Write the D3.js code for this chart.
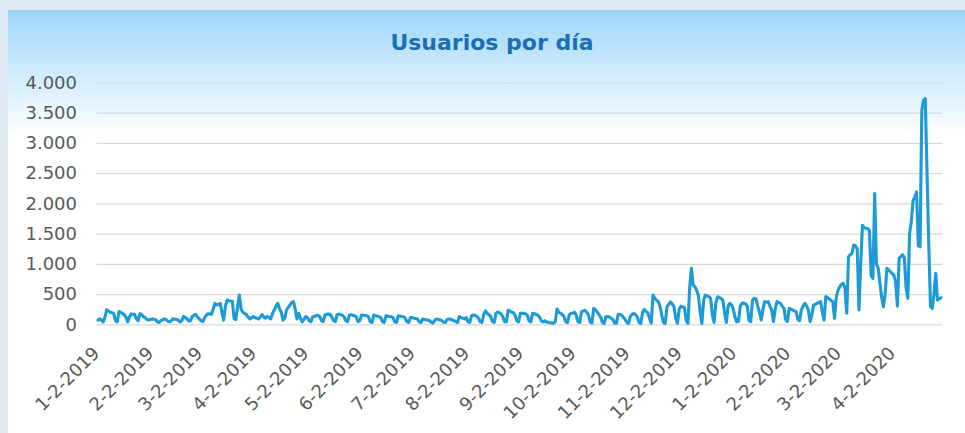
<!DOCTYPE html>
<html lang="es">
<head>
<meta charset="utf-8">
<title>Usuarios por día</title>
<script src="https://cdn.jsdelivr.net/npm/d3@7"></script>
<style>
  html, body { margin: 0; padding: 0; background: #dfeaf5; }
  svg { display: block; }
</style>
</head>
<body>
<svg id="chart" width="965" height="433"></svg>
<script>
var TITULO = 'Usuarios por día';

// usuarios diarios, un array por mes (enero 2019 empieza el día 2)
var ene2019 = [70, 90, 70, 40, 120, 240, 220, 200, 190, 180, 60, 40, 210, 200, 180, 160, 120, 40, 120, 170, 165, 160, 90, 60, 175, 160, 126, 110, 80, 70];
var feb2019 = [80, 90, 85, 80, 40, 30, 60, 75, 90, 80, 50, 40, 60, 90, 85, 80, 70, 40, 60, 130, 110, 90, 55, 60, 130, 150, 165, 120];
var mar2019 = [90, 60, 43, 100, 150, 175, 170, 165, 250, 346, 320, 330, 346, 200, 70, 300, 400, 390, 385, 380, 90, 80, 300, 484, 250, 200, 180, 160, 120, 90, 110];
var abr2019 = [126, 110, 100, 88, 120, 160, 120, 100, 130, 110, 90, 180, 236, 300, 346, 260, 200, 70, 100, 236, 280, 320, 360, 373, 250, 90, 180, 100, 40, 80];
var may2019 = [126, 110, 60, 43, 126, 130, 140, 150, 130, 60, 43, 150, 165, 170, 165, 120, 60, 43, 160, 170, 160, 150, 120, 60, 43, 150, 160, 150, 140, 120, 43];
var jun2019 = [60, 154, 150, 145, 140, 120, 43, 30, 154, 140, 135, 126, 110, 43, 30, 140, 135, 130, 126, 110, 43, 30, 140, 135, 130, 126, 100, 43, 30, 110];
var jul2019 = [110, 100, 95, 90, 43, 30, 88, 80, 75, 70, 60, 30, 20, 70, 88, 80, 75, 60, 33, 30, 80, 88, 85, 70, 60, 43, 30, 126, 110, 100, 90];
var ago2019 = [110, 40, 30, 140, 154, 150, 130, 100, 43, 30, 165, 220, 180, 160, 130, 43, 30, 180, 204, 190, 170, 120, 43, 40, 236, 220, 200, 190, 150, 55, 40];
var sep2019 = [182, 180, 182, 170, 150, 55, 40, 182, 175, 165, 150, 120, 55, 40, 60, 40, 33, 25, 20, 20, 40, 252, 200, 182, 160, 130, 40, 30, 154, 182];
var oct2019 = [182, 200, 150, 43, 30, 204, 220, 230, 200, 150, 40, 20, 264, 240, 200, 160, 120, 30, 16, 126, 130, 120, 100, 80, 20, 16, 160, 165, 150, 120, 80];
var nov2019 = [30, 16, 126, 165, 180, 160, 120, 30, 16, 190, 245, 210, 190, 100, 20, 483, 430, 400, 373, 300, 150, 30, 16, 290, 330, 370, 340, 290, 100, 16];
var dic2019 = [250, 300, 290, 280, 60, 16, 600, 924, 650, 620, 560, 480, 200, 16, 400, 483, 470, 456, 430, 150, 30, 350, 456, 440, 430, 401, 200, 30, 300, 346, 320];
var ene2020 = [250, 120, 40, 50, 300, 346, 350, 340, 300, 60, 44, 400, 429, 420, 300, 200, 72, 250, 374, 370, 374, 300, 237, 44, 250, 374, 360, 347, 300, 264, 80];
var feb2020 = [44, 264, 250, 237, 220, 209, 80, 60, 237, 300, 347, 300, 237, 44, 150, 319, 330, 347, 360, 374, 200, 72, 457, 440, 420, 390, 374, 99, 450];
var mar2020 = [560, 622, 660, 677, 600, 182, 1116, 1150, 1171, 1308, 1300, 1250, 237, 1000, 1638, 1600, 1584, 1584, 1550, 800, 759, 2160, 1000, 930, 677, 450, 291, 500, 924, 900, 869];
var abr2020 = [840, 814, 700, 300, 1089, 1120, 1150, 1100, 600, 429, 1500, 1700, 2046, 2100, 2188, 1300, 1281, 3536, 3701, 3729, 2500, 1300, 291, 264, 500, 841, 400, 420, 440];

var meses = [
  { anio: 2019, mes: 0, desde: 2, valores: ene2019 },
  { anio: 2019, mes: 1, desde: 1, valores: feb2019 },
  { anio: 2019, mes: 2, desde: 1, valores: mar2019 },
  { anio: 2019, mes: 3, desde: 1, valores: abr2019 },
  { anio: 2019, mes: 4, desde: 1, valores: may2019 },
  { anio: 2019, mes: 5, desde: 1, valores: jun2019 },
  { anio: 2019, mes: 6, desde: 1, valores: jul2019 },
  { anio: 2019, mes: 7, desde: 1, valores: ago2019 },
  { anio: 2019, mes: 8, desde: 1, valores: sep2019 },
  { anio: 2019, mes: 9, desde: 1, valores: oct2019 },
  { anio: 2019, mes: 10, desde: 1, valores: nov2019 },
  { anio: 2019, mes: 11, desde: 1, valores: dic2019 },
  { anio: 2020, mes: 0, desde: 1, valores: ene2020 },
  { anio: 2020, mes: 1, desde: 1, valores: feb2020 },
  { anio: 2020, mes: 2, desde: 1, valores: mar2020 },
  { anio: 2020, mes: 3, desde: 1, valores: abr2020 }
];

var yTicks = [0, 500, 1000, 1500, 2000, 2500, 3000, 3500, 4000];
var xTickLabels = ['1-2-2019', '2-2-2019', '3-2-2019', '4-2-2019', '5-2-2019', '6-2-2019',
  '7-2-2019', '8-2-2019', '9-2-2019', '10-2-2019', '11-2-2019', '12-2-2019',
  '1-2-2020', '2-2-2020', '3-2-2020', '4-2-2020'];

(function () {
  'use strict';

  var W = 965, H = 433;
  var margin = { top: 82.3, right: 24, bottom: 108.7, left: 98 };
  var svg = d3.select('#chart');

  // Fondo con degradado azul claro
  var grad = svg.append('defs').append('linearGradient')
    .attr('id', 'fondo').attr('x1', 0).attr('y1', 0).attr('x2', 0).attr('y2', 1);
  grad.append('stop').attr('offset', 0).attr('stop-color', '#9dd6fb');
  grad.append('stop').attr('offset', 0.13).attr('stop-color', '#c9e9fd');
  grad.append('stop').attr('offset', 0.3).attr('stop-color', '#ffffff');
  grad.append('stop').attr('offset', 1).attr('stop-color', '#ffffff');

  svg.append('rect').attr('x', 8).attr('y', 10)
    .attr('width', W - 8).attr('height', H - 10)
    .attr('fill', 'url(#fondo)');

  var serie = [];
  meses.forEach(function (m) {
    m.valores.forEach(function (v, i) {
      serie.push({ fecha: new Date(m.anio, m.mes, m.desde + i), valor: v });
    });
  });

  var x = d3.scaleTime()
    .domain(d3.extent(serie, function (d) { return d.fecha; }))
    .range([margin.left, W - margin.right]);

  var y = d3.scaleLinear()
    .domain([0, 4000])
    .range([H - margin.bottom, margin.top]);

  var es = d3.formatLocale({ decimal: ',', thousands: '.', grouping: [3], currency: ['', ' €'] });
  var fmt = es.format(',');

  // Eje Y + lineas de cuadricula
  var gy = svg.append('g')
    .attr('transform', 'translate(' + (margin.left - 1.5) + ',0)')
    .call(d3.axisLeft(y).tickValues(yTicks).tickFormat(fmt)
      .tickSize(-(W - margin.right - margin.left + 3)).tickPadding(19.5));
  gy.select('.domain').remove();
  gy.selectAll('line').attr('stroke', '#d9d9d9').attr('stroke-width', 1.3);
  gy.selectAll('text')
    .attr('fill', '#595959')
    .style('font-family', '"DejaVu Sans", Verdana, sans-serif')
    .style('font-size', '18px');

  // Eje X con etiquetas giradas
  var tickDates = xTickLabels.map(function (s) {
    var p = s.split('-');
    return new Date(+p[2], +p[0] - 1, +p[1]);
  });

  var gx = svg.append('g')
    .attr('transform', 'translate(0,' + (H - margin.bottom) + ')')
    .call(d3.axisBottom(x).tickValues(tickDates).tickSize(0)
      .tickFormat(function (d, i) { return xTickLabels[i]; }));
  gx.select('.domain').remove();
  gx.selectAll('text')
    .attr('x', null).attr('y', null).attr('dy', null)
    .attr('text-anchor', 'end')
    .attr('transform', 'translate(2,30) rotate(-45)')
    .attr('fill', '#595959')
    .style('font-family', '"DejaVu Sans", Verdana, sans-serif')
    .style('font-size', '18px');

  // Serie
  var line = d3.line()
    .x(function (d) { return x(d.fecha); })
    .y(function (d) { return y(d.valor); });

  svg.append('path')
    .datum(serie)
    .attr('d', line)
    .attr('fill', 'none')
    .attr('stroke', '#1c9bd8')
    .attr('stroke-width', 3.1)
    .attr('stroke-linejoin', 'round')
    .attr('stroke-linecap', 'round');

  // Titulo
  svg.append('text')
    .attr('x', 492).attr('y', 50)
    .attr('text-anchor', 'middle')
    .attr('fill', '#1b6fb5')
    .style('font-family', '"DejaVu Sans", Verdana, sans-serif')
    .style('font-weight', 'bold')
    .style('font-size', '22px')
    .text(TITULO);
})();
</script>
</body>
</html>
